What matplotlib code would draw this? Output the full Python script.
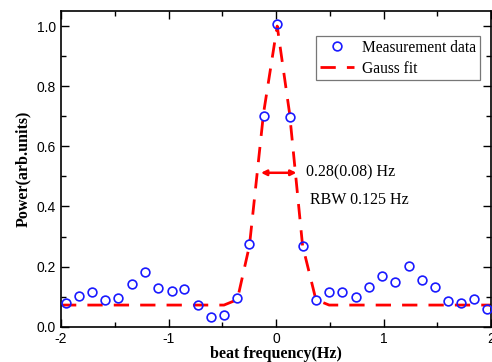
import matplotlib.pyplot as plt
from matplotlib.ticker import MultipleLocator

freq = [-1.956, -1.832, -1.709, -1.588, -1.468, -1.341, -1.220, -1.096, -0.972,
        -0.852, -0.728, -0.608, -0.484, -0.360, -0.247, -0.116, 0.011, 0.126,
        0.247, 0.371, 0.494, 0.618, 0.742, 0.865, 0.989, 1.110, 1.234, 1.355,
        1.478, 1.602, 1.722, 1.843, 1.967]
power = [0.078, 0.102, 0.115, 0.089, 0.094, 0.143, 0.183, 0.130, 0.119,
         0.124, 0.072, 0.032, 0.039, 0.096, 0.275, 0.701, 1.008, 0.698,
         0.267, 0.088, 0.114, 0.114, 0.100, 0.133, 0.167, 0.149, 0.203, 0.155,
         0.132, 0.084, 0.079, 0.093, 0.060]

# Gauss fit curve as drawn (polyline)
fit_freq = [-2.0, -0.484, -0.360, -0.247, -0.116, 0.011, 0.126, 0.247, 0.371, 0.494, 2.0]
fit_power = [0.072, 0.072, 0.090, 0.270, 0.710, 1.000, 0.710, 0.270, 0.090, 0.072, 0.072]

serif = ['Liberation Serif', 'DejaVu Serif']
plt.rcParams['font.family'] = ['Liberation Sans', 'DejaVu Sans']
plt.rcParams['axes.unicode_minus'] = False

fig = plt.figure(figsize=(4.92, 3.62), dpi=100)
ax = fig.add_axes([0.124, 0.0975, 0.874, 0.872])

ax.plot(freq, power, 'o', mfc='none', mec='#1a1aff', ms=6.3, mew=1.2,
        label='Measurement data', zorder=3)
ax.plot(fit_freq, fit_power, color='#ff0000', lw=2, dashes=(5.5, 4),
        label='Gauss fit', zorder=2)

# FWHM arrow and notes
ax.annotate('', xy=(-0.14, 0.512), xytext=(0.19, 0.512),
            arrowprops=dict(arrowstyle='<|-|>', color='#ff0000', lw=1.8,
                            mutation_scale=8, shrinkA=0, shrinkB=0))
ax.text(0.28, 0.512, '0.28(0.08) Hz', family=serif, fontsize=11.5, va='center')
ax.text(0.32, 0.42, 'RBW 0.125 Hz', family=serif, fontsize=11.5, va='center')

ax.set_xlim(-2, 2)
ax.set_ylim(0, 1.05)
ax.xaxis.set_major_locator(MultipleLocator(1))
ax.xaxis.set_minor_locator(MultipleLocator(0.5))
ax.yaxis.set_major_locator(MultipleLocator(0.2))
ax.yaxis.set_minor_locator(MultipleLocator(0.1))
ax.yaxis.set_major_formatter(plt.FuncFormatter(lambda v, p: f'{v:.1f}'))
ax.tick_params(which='both', direction='in', top=True, right=True, labelsize=10)
ax.tick_params(which='major', length=6, width=1)
ax.tick_params(which='minor', length=3.5, width=1)
for s in ax.spines.values():
    s.set_linewidth(1.2)

ax.set_xlabel('beat frequency(Hz)', family=serif, fontweight='bold', fontsize=11.5, labelpad=0)
ax.set_ylabel('Power(arb.units)', family=serif, fontweight='bold', fontsize=11.5, labelpad=4)

leg = ax.legend(loc='upper right', bbox_to_anchor=(0.974, 0.921), prop={'family': serif, 'size': 11.2},
                fancybox=False, edgecolor='#555555', handlelength=2.2,
                borderpad=0.25, labelspacing=0.3, handletextpad=0.5, borderaxespad=0)
leg.get_frame().set_linewidth(0.9)

fig.savefig('out.png', dpi=100)
